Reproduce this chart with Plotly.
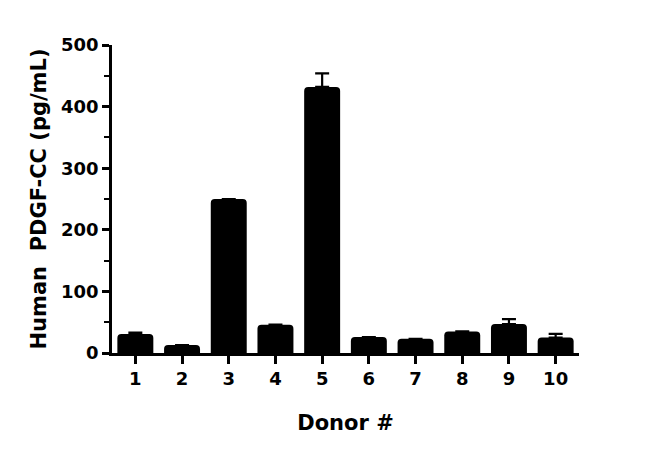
import plotly.graph_objects as go

donors = ["1", "2", "3", "4", "5", "6", "7", "8", "9", "10"]
x_pos = [1, 2, 3, 4, 5, 6, 7, 8, 9, 10]
values = [31, 13, 250, 46, 432, 26, 23, 35, 47, 25]
errors = [2, 0, 0, 0, 22, 0, 0, 0, 8, 6]
y_ticks = [0, 100, 200, 300, 400, 500]

FONT = "DejaVu Sans"

fig = go.Figure()
fig.add_trace(go.Bar(
    x=x_pos, y=values, width=0.77,
    marker=dict(color="black", line=dict(width=0), cornerradius=4),
    error_y=dict(type="data", array=errors, arrayminus=[0]*len(errors), symmetric=False,
                 color="black", thickness=2.2, width=7, visible=True),
))

fig.update_layout(
    width=650, height=459,
    margin=dict(l=112, r=71, t=45, b=106),
    plot_bgcolor="white", paper_bgcolor="white",
    showlegend=False,
    font=dict(family=FONT, color="black"),
    xaxis=dict(
        range=[0.5, 10.5], tickvals=x_pos, ticktext=donors,
        showline=True, linecolor="black", linewidth=2.5,
        ticks="outside", ticklen=8, tickwidth=2.5, tickcolor="black",
        showgrid=False, zeroline=False,
        tickfont=dict(family=FONT, size=18, color="black", weight="bold"),
        title=dict(text="Donor #", font=dict(family=FONT, size=21, color="black", weight="bold"), standoff=27),
    ),
    yaxis=dict(
        range=[0, 500], tickvals=y_ticks,
        showline=True, linecolor="black", linewidth=2.5,
        ticks="outside", ticklen=7, tickwidth=2.5, tickcolor="black",
        minor=dict(dtick=50, ticks="outside", ticklen=5, tickwidth=2, tickcolor="black", showgrid=False),
        showgrid=False, zeroline=False,
        tickfont=dict(family=FONT, size=18, color="black", weight="bold"),
        title=dict(text="Human  PDGF-CC (pg/mL)", font=dict(family=FONT, size=21, color="black", weight="bold"), standoff=9),
    ),
)

fig.write_html("out.html", config={"displayModeBar": False})
with open("out.html", "r", encoding="utf-8") as f:
    html = f.read()
html = html.replace("<head>", "<head><style>html,body{margin:0;padding:0;overflow:hidden;}</style>", 1)
with open("out.html", "w", encoding="utf-8") as f:
    f.write(html)
